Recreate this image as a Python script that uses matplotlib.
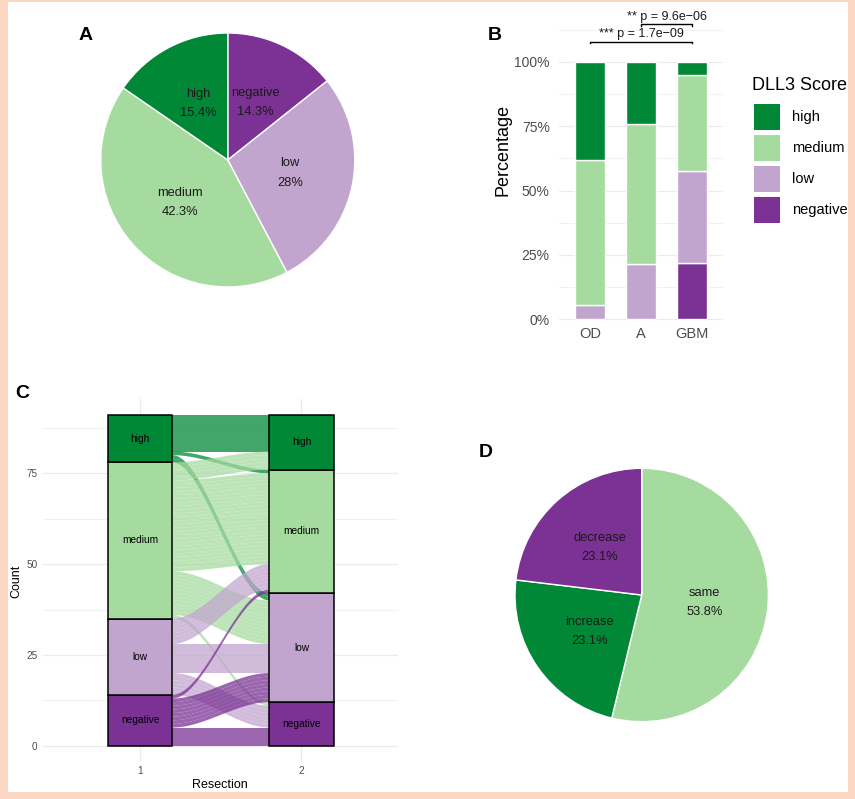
import numpy as np
import matplotlib
matplotlib.use("Agg")
import matplotlib.pyplot as plt
from matplotlib.patches import Rectangle, Polygon

plt.rcParams['font.family'] = ['Liberation Sans', 'DejaVu Sans']

W, H = 855, 799

# ---------------- data ----------------
score_levels = ['high', 'medium', 'low', 'negative']          # top -> bottom
score_colors = ['#008837', '#a6dba0', '#c2a5cf', '#7b3294']

# Panel A
pieA_labels = ['negative', 'low', 'medium', 'high']
pieA_values = [14.3, 28.0, 42.3, 15.4]
pieA_pct = ['14.3%', '28%', '42.3%', '15.4%']

# Panel B (percent per group)
barB_groups = ['OD', 'A', 'GBM']
barB_negative = [0.0, 0.0, 21.7]
barB_low = [5.6, 21.3, 36.0]
barB_medium = [56.2, 54.4, 37.1]
barB_high = [38.2, 24.3, 5.2]
sig_pairs = [('OD', 'GBM'), ('A', 'GBM')]
sig_text = ['*** p = 1.7e\u221209', '** p = 9.6e\u221206']
sig_y = [107.8, 114.6]

# Panel C: flows resection 1 (rows) -> resection 2 (cols), order high, medium, low, negative
flow_counts = [[10, 1, 2, 0],
               [5, 25, 12, 1],
               [0, 7, 8, 6],
               [0, 1, 8, 5]]
resections = ['1', '2']

# Panel D
pieD_labels = ['same', 'increase', 'decrease']
pieD_values = [53.8, 23.1, 23.1]
pieD_pct = ['53.8%', '23.1%', '23.1%']
pieD_colors = ['#a6dba0', '#008837', '#7b3294']

# ---------------- helpers ----------------
cmap = dict(zip(score_levels, score_colors))


def px_axes(fig, x0, y0, x1, y1):
    return fig.add_axes([x0 / W, 1 - y1 / H, (x1 - x0) / W, (y1 - y0) / H])


fig = plt.figure(figsize=(W / 100, H / 100), dpi=100, facecolor='#fcd8c4')
fig.patches.append(Rectangle((8 / W, 1 - 792 / H), 840 / W, 790 / H,
                             transform=fig.transFigure, facecolor='white',
                             edgecolor='none', zorder=-5))

txt_dark = '#1a1a1a'
grid_c = '#ebebeb'
tick_c = '#4d4d4d'


def draw_pie(ax, values, labels, pcts, colors):
    ax.pie(values, colors=colors, startangle=90, counterclock=False, radius=1,
           wedgeprops=dict(edgecolor='white', linewidth=1.0))
    tot = float(sum(values))
    cum = np.cumsum(values)
    for v, c, lab, p in zip(values, cum, labels, pcts):
        a = (c - v / 2) / tot * 2 * np.pi
        ax.text(0.5 * np.sin(a), 0.5 * np.cos(a), lab + '\n' + p, ha='center',
                va='center', fontsize=9.3, color=txt_dark, linespacing=1.8)
    ax.set_xlim(-1, 1)
    ax.set_ylim(-1, 1)
    ax.set_aspect('equal')
    ax.axis('off')


# ---------------- Panel A ----------------
axA = px_axes(fig, 100.8, 33, 354.8, 287)
draw_pie(axA, pieA_values, pieA_labels, pieA_pct, [cmap[l] for l in pieA_labels])

# ---------------- Panel B ----------------
py0, ppx = 319.3, 2.576
ylo, yhi = -2.0, 118.0
axB = px_axes(fig, 559.4, py0 - yhi * ppx, 722.6, py0 - ylo * ppx)
xb = np.arange(len(barB_groups))
bottom = np.zeros(len(xb))
for lev, vals in zip(['negative', 'low', 'medium', 'high'],
                     [barB_negative, barB_low, barB_medium, barB_high]):
    vals = np.array(vals)
    axB.bar(xb, vals, bottom=bottom, width=0.57, color=cmap[lev],
            edgecolor='white', linewidth=1.0, zorder=2)
    bottom += vals
axB.set_xlim(-0.6, len(xb) - 0.4)
axB.set_ylim(ylo, yhi)
axB.set_yticks([0, 25, 50, 75, 100])
axB.set_yticklabels(['0%', '25%', '50%', '75%', '100%'])
axB.set_yticks([12.5, 37.5, 62.5, 87.5, 112.5], minor=True)
axB.set_xticks(xb)
axB.set_xticklabels(barB_groups)
axB.grid(True, which='major', axis='y', color=grid_c, linewidth=0.9, zorder=0)
axB.grid(True, which='minor', axis='y', color=grid_c, linewidth=0.5, zorder=0)
axB.set_axisbelow(True)
axB.tick_params(axis='both', which='both', length=0, colors=tick_c)
axB.tick_params(axis='y', labelsize=10, pad=7)
axB.tick_params(axis='x', labelsize=10.5, pad=1.5)
for s in axB.spines.values():
    s.set_visible(False)
axB.set_facecolor('none')
for (g1, g2), t, yv in zip(sig_pairs, sig_text, sig_y):
    x1, x2 = barB_groups.index(g1), barB_groups.index(g2)
    axB.plot([x1, x1, x2, x2], [yv - 0.7, yv, yv, yv - 0.7], color='black',
             linewidth=1.0, clip_on=False, zorder=3)
    axB.text((x1 + x2) / 2, yv + 1.7, t, ha='center', va='baseline',
             fontsize=9, color=txt_dark, clip_on=False)
fig.text(503 / W, 1 - 150 / H, 'Percentage', rotation=90, ha='center',
         va='center', fontsize=13, color='black')

# legend (manual)
fig.text(752 / W, 1 - 85 / H, 'DLL3 Score', ha='left', va='center',
         fontsize=13, color='black')
for k, lev in enumerate(score_levels):
    ytop = 104 + 31 * k
    fig.patches.append(Rectangle((754 / W, 1 - (ytop + 26) / H), 26 / W, 26 / H,
                                 transform=fig.transFigure,
                                 facecolor=cmap[lev], edgecolor='none'))
    fig.text(792 / W, 1 - (ytop + 13) / H, lev, ha='left', va='center',
             fontsize=10.5, color='black')

# ---------------- Panel C ----------------
cy0, cpx = 745.7, 3.632
axC = px_axes(fig, 43.3, cy0 - 95.55 * cpx, 398.3, cy0 + 4.55 * cpx)
bottom_order = ['negative', 'low', 'medium', 'high']
fc = np.array(flow_counts)
left_tot = dict(zip(score_levels, fc.sum(axis=1)))
right_tot = dict(zip(score_levels, fc.sum(axis=0)))


def bases(tot):
    b, acc = {}, 0
    for lev in bottom_order:
        b[lev] = acc
        acc += tot[lev]
    return b


lb, rb = bases(left_tot), bases(right_tot)
sw = 0.4
xa, xb2 = 1 + sw / 2, 2 - sw / 2
t = np.linspace(0, 1, 80)
s = 3 * t ** 2 - 2 * t ** 3
xs = xa + (xb2 - xa) * t
for i, src in enumerate(score_levels):
    for j, dst in enumerate(score_levels):
        n = fc[i, j]
        if n == 0:
            continue
        loff = lb[src] + sum(fc[i, score_levels.index(d)]
                             for d in bottom_order[:bottom_order.index(dst)])
        roff = rb[dst] + sum(fc[score_levels.index(o), j]
                             for o in bottom_order[:bottom_order.index(src)])
        for k in range(n):
            y0b, y1b = loff + k, roff + k
            lower = y0b + (y1b - y0b) * s
            upper = lower + 1
            pts = np.vstack([np.column_stack([xs, lower]),
                             np.column_stack([xs[::-1], upper[::-1]])])
            axC.add_patch(Polygon(pts, closed=True, facecolor=cmap[src],
                                  edgecolor='none', alpha=0.75, zorder=2))
for xpos, tot, b in [(1, left_tot, lb), (2, right_tot, rb)]:
    for lev in bottom_order:
        axC.add_patch(Rectangle((xpos - sw / 2, b[lev]), sw, tot[lev],
                                facecolor=cmap[lev], edgecolor='black',
                                linewidth=1.1, zorder=3))
        axC.text(xpos, b[lev] + tot[lev] / 2, lev, ha='center', va='center',
                 fontsize=7.3, color='black', zorder=4)
axC.set_xlim(0.4, 2.6)
axC.set_ylim(-4.55, 95.55)
axC.set_xticks([1, 2])
axC.set_xticklabels(resections)
axC.set_yticks([0, 25, 50, 75])
axC.set_yticks([12.5, 37.5, 62.5, 87.5], minor=True)
axC.grid(True, which='major', color=grid_c, linewidth=0.9, zorder=0)
axC.grid(True, which='minor', axis='y', color=grid_c, linewidth=0.5, zorder=0)
axC.set_axisbelow(True)
axC.tick_params(axis='both', which='both', length=0, colors=tick_c, labelsize=7.2)
axC.tick_params(axis='x', pad=3)
axC.tick_params(axis='y', pad=4)
for sp in axC.spines.values():
    sp.set_visible(False)
axC.set_facecolor('none')
fig.text(16 / W, 1 - 581 / H, 'Count', rotation=90, ha='center', va='center',
         fontsize=9, color='black')
fig.text(220 / W, 1 - 785 / H, 'Resection', ha='center', va='center',
         fontsize=9, color='black')

# ---------------- Panel D ----------------
axD = px_axes(fig, 515, 468.3, 768.4, 721.7)
draw_pie(axD, pieD_values, pieD_labels, pieD_pct, pieD_colors)

# ---------------- panel letters ----------------
for lab, x, y in [('A', 86, 35), ('B', 495, 35), ('C', 22, 393), ('D', 486, 452)]:
    fig.text(x / W, 1 - y / H, lab, ha='center', va='center', fontsize=14,
             fontweight='bold', color='black')

fig.savefig('out.png', dpi=100, facecolor=fig.get_facecolor())
